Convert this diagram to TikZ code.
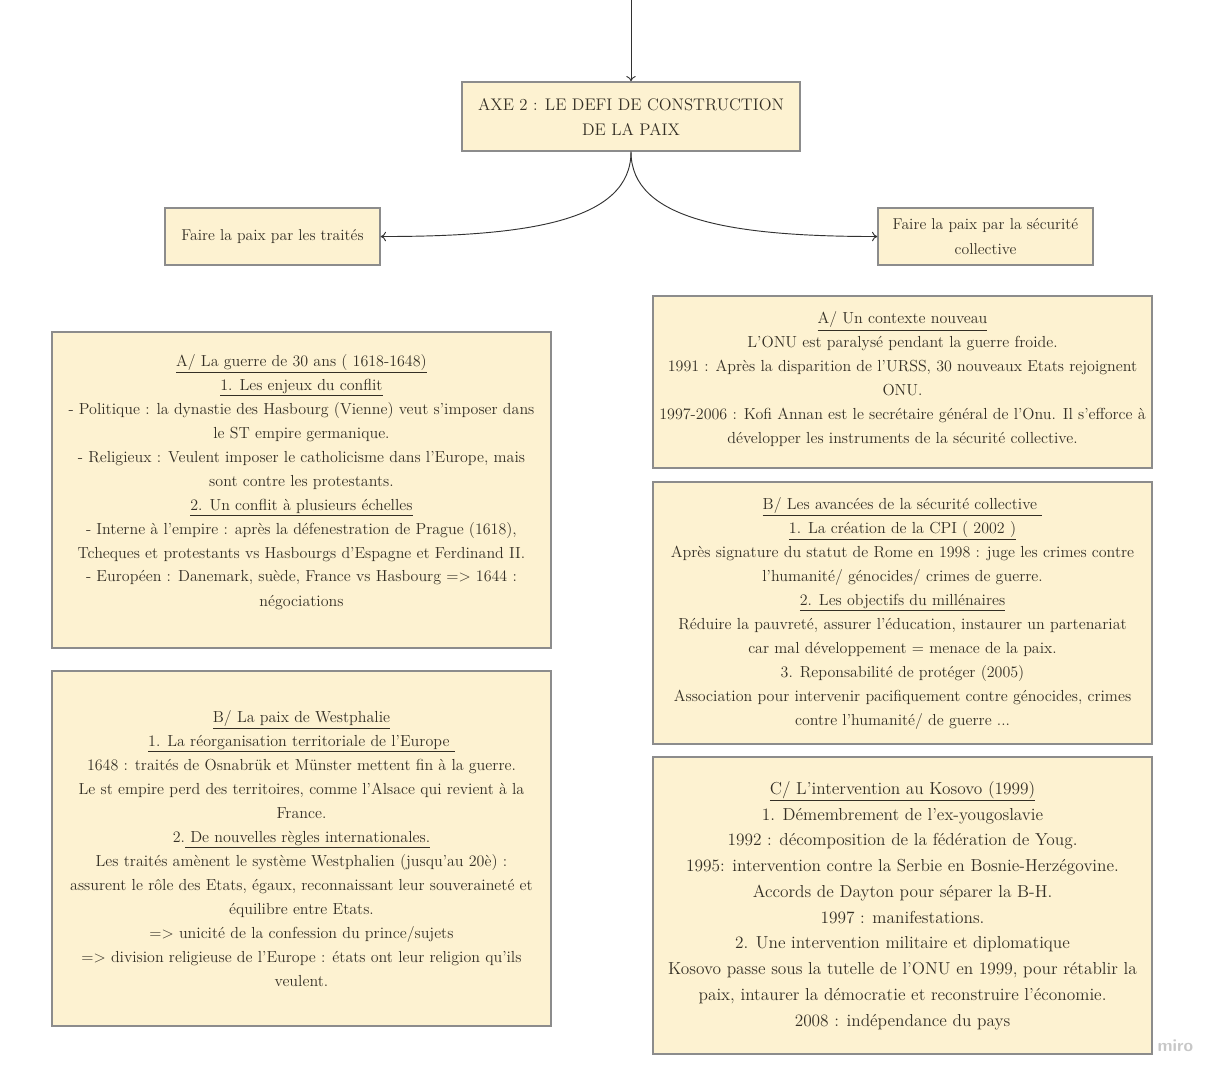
\documentclass[tikz,border=0pt]{standalone}
\usepackage{tikz}
\usetikzlibrary{positioning, arrows.meta}
\definecolor{boxfill}{RGB}{253,242,209}
\definecolor{boxline}{RGB}{140,140,140}
\definecolor{ink}{RGB}{52,47,37}
\definecolor{wire}{RGB}{50,50,50}
\tikzset{>={To[length=4pt,width=7pt]}}
\tikzset{
    box/.style 2 args={draw=boxline, fill=boxfill, line width=1pt, align=center, text=ink,
        font=\fontsize{12}{18}\selectfont, inner sep=0pt, minimum width=#1, minimum height=#2},
    wirestyle/.style={color=wire, line width=0.7pt}
}
\begin{document}
\begin{tikzpicture}[on grid]
    \useasboundingbox (0,0) rectangle (916.5pt,-810pt);
    \coordinate (top) at (473.25pt,0pt);
    \node[box={253.5pt}{51.75pt}, font=\fontsize{12.6}{18.75}\selectfont] (axe) at (473.25pt,-87.4pt) {AXE 2 : LE DEFI DE CONSTRUCTION\\DE LA PAIX};
    \node[box={161.25pt}{42.75pt}, font=\fontsize{11.8}{18.75}\selectfont] (traites) [below left=90pt and 268.9pt of axe] {Faire la paix par les traités};
    \node[box={161.25pt}{42.75pt}, font=\fontsize{11.8}{18.75}\selectfont] (securite) [below right=90pt and 265.9pt of axe] {Faire la paix par la sécurité\\collective};
    \node[box={374.25pt}{237pt}] (guerre) at (226.1pt,-367.5pt) {\underline{A/ La guerre de 30 ans ( 1618-1648)}\\
        \underline{1. Les enjeux du conflit}\\
        - Politique : la dynastie des Hasbourg (Vienne) veut s'imposer dans\\
        le ST empire germanique.\\
        - Religieux : Veulent imposer le catholicisme dans l'Europe, mais\\
        sont contre les protestants.\\
        \underline{2. Un conflit à plusieurs échelles}\\
        - Interne à l'empire : après la défenestration de Prague (1618),\\
        Tcheques et protestants vs Hasbourgs d'Espagne et Ferdinand II.\\
        - Européen : Danemark, suède, France vs Hasbourg => 1644 :\\
        négociations\\[-3pt]\mbox{}};
    \node[box={374.25pt}{266.25pt}] (westphalie) [below=268.9pt of guerre] {\underline{B/ La paix de Westphalie}\\
        \underline{1. La réorganisation territoriale de l'Europe }\\
        1648 : traités de Osnabrük et Münster mettent fin à la guerre.\\
        Le st empire perd des territoires, comme l'Alsace qui revient à la\\
        France.\\
        2.\underline{ De nouvelles règles internationales.}\\
        Les traités amènent le système Westphalien (jusqu'au 20è) :\\
        assurent le rôle des Etats, égaux, reconnaissant leur souveraineté et\\
        équilibre entre Etats.\\
        => unicité de la confession du prince/sujets\\
        => division religieuse de l'Europe : états ont leur religion qu'ils\\
        veulent.};
    \node[box={374.25pt}{129pt}] (contexte) at (676.9pt,-286.5pt) {\underline{A/ Un contexte nouveau}\\
        L'ONU est paralysé pendant la guerre froide.\\
        1991 : Après la disparition de l'URSS, 30 nouveaux Etats rejoignent\\
        ONU.\\
        1997-2006 : Kofi Annan est le secrétaire général de l'Onu. Il s'efforce à\\
        développer les instruments de la sécurité collective.\\[-12pt]\mbox{}};
    \node[box={374.25pt}{196.5pt}] (avancees) [below=173.25pt of contexte] {\underline{B/ Les avancées de la sécurité collective }\\
        \underline{1. La création de la CPI ( 2002 )}\\
        Après signature du statut de Rome en 1998 : juge les crimes contre\\
        l'humanité/ génocides/ crimes de guerre.\\
        \underline{2. Les objectifs du millénaires}\\
        Réduire la pauvreté, assurer l'éducation, instaurer un partenariat\\
        car mal développement = menace de la paix.\\
        3. Reponsabilité de protéger (2005)\\
        Association pour intervenir pacifiquement contre génocides, crimes\\
        contre l'humanité/ de guerre ...};
    \node[box={374.25pt}{222.75pt}, font=\fontsize{13}{19.3}\selectfont] (kosovo) [below=219.4pt of avancees] {\underline{C/ L'intervention au Kosovo (1999)}\\
        1. Démembrement de l'ex-yougoslavie\\
        1992 : décomposition de la fédération de Youg.\\
        1995: intervention contre la Serbie en Bosnie-Herzégovine.\\
        Accords de Dayton pour séparer la B-H.\\
        1997 : manifestations.\\
        2. Une intervention militaire et diplomatique\\
        Kosovo passe sous la tutelle de l'ONU en 1999, pour rétablir la\\
        paix, intaurer la démocratie et reconstruire l'économie.\\
        2008 : indépendance du pays};
    \node[text=black!22, font=\sffamily\bfseries\fontsize{13}{15}\selectfont] (miro) at (881.5pt,-784.5pt) {miro};
    \draw[wirestyle,->] (top) -- (axe);
    \path[wirestyle,->]
        (axe.south) edge [out=-90,in=0,out looseness=0.67,in looseness=1.44] (traites.east)
        (axe.south) edge [out=-90,in=180,out looseness=0.67,in looseness=1.44] (securite.west)
    ;
\end{tikzpicture}
\end{document}
